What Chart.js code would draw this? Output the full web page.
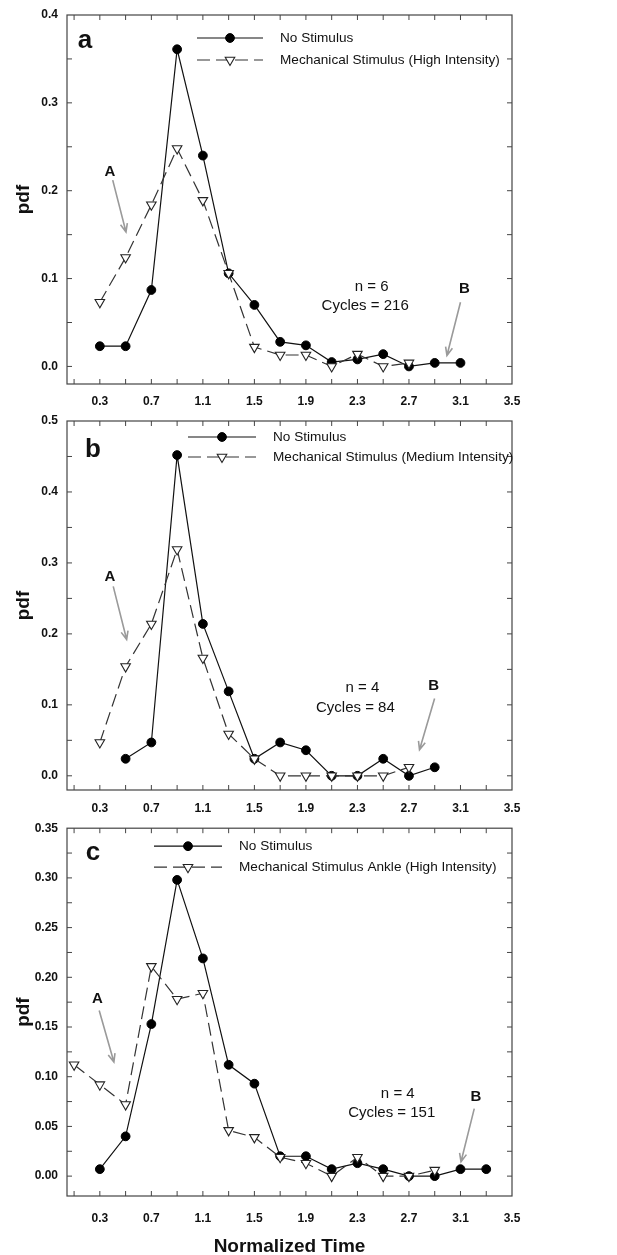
<!DOCTYPE html>
<html>
<head>
<meta charset="utf-8">
<script src="https://cdn.jsdelivr.net/npm/chart.js@4.4.0/dist/chart.umd.min.js"></script>
<style>
  html, body { margin: 0; padding: 0; background: #fff; }
  #wrap { position: relative; width: 617px; height: 1255px; }
  canvas { position: absolute; left: 0; }
</style>
</head>
<body>
<div id="wrap">
  <canvas id="pa" width="617" height="412" style="top:0px"></canvas>
  <canvas id="pb" width="617" height="410" style="top:410px"></canvas>
  <canvas id="pc" width="617" height="435" style="top:820px"></canvas>
</div>
<script>
// bin centres (normalized time)
const bins = [0.1, 0.3, 0.5, 0.7, 0.9, 1.1, 1.3, 1.5, 1.7, 1.9, 2.1, 2.3, 2.5, 2.7, 2.9, 3.1, 3.3];

// panel a
const noStimA = [null, 0.023, 0.023, 0.087, 0.361, 0.240, 0.106, 0.070, 0.028, 0.024, 0.005, 0.008, 0.014, 0.000, 0.004, 0.004, null];
const mechA   = [null, 0.073, 0.124, 0.184, 0.248, 0.189, 0.106, 0.022, 0.013, 0.013, 0.000, 0.014, 0.000, 0.004, null, null, null];
// panel b
const noStimB = [null, null, 0.024, 0.047, 0.452, 0.214, 0.119, 0.024, 0.047, 0.036, 0.000, 0.000, 0.024, 0.000, 0.012, null, null];
const mechB   = [null, 0.047, 0.154, 0.214, 0.319, 0.166, 0.059, 0.024, 0.000, 0.000, 0.000, 0.000, 0.000, 0.012, null, null, null];
// panel c
const noStimC = [null, 0.007, 0.040, 0.153, 0.298, 0.219, 0.112, 0.093, 0.020, 0.020, 0.007, 0.013, 0.007, 0.000, 0.000, 0.007, 0.007];
const mechC   = [0.112, 0.092, 0.072, 0.211, 0.178, 0.184, 0.046, 0.039, 0.019, 0.013, 0.000, 0.019, 0.000, 0.000, 0.006, null, null];

// ticks
const xTicks = [0.1, 0.3, 0.5, 0.7, 0.9, 1.1, 1.3, 1.5, 1.7, 1.9, 2.1, 2.3, 2.5, 2.7, 2.9, 3.1, 3.3, 3.5];
const xLabels = [0.3, 0.7, 1.1, 1.5, 1.9, 2.3, 2.7, 3.1, 3.5];
const yTicksA = [0, 0.05, 0.1, 0.15, 0.2, 0.25, 0.3, 0.35, 0.4];
const yLabelsA = [0, 0.1, 0.2, 0.3, 0.4];
const yTicksB = [0, 0.05, 0.1, 0.15, 0.2, 0.25, 0.3, 0.35, 0.4, 0.45, 0.5];
const yLabelsB = [0, 0.1, 0.2, 0.3, 0.4, 0.5];
const yTicksC = [0, 0.025, 0.05, 0.075, 0.1, 0.125, 0.15, 0.175, 0.2, 0.225, 0.25, 0.275, 0.3, 0.325, 0.35];
const yLabelsC = [0, 0.05, 0.1, 0.15, 0.2, 0.25, 0.3, 0.35];

const FONT = '"Liberation Sans", Arial, sans-serif';
const INK = '#111';
const GREY = '#9a9a9a';

const near = (list, v) => list.some(l => Math.abs(l - v) < 1e-9);
const toPoints = arr => bins.map((x, i) => ({x: x, y: arr[i]}));

// box round the plot with inward tick marks on all four sides
const frameTicks = {
  id: 'frameTicks',
  afterDraw(chart) {
    const {ctx, chartArea: a, scales: {x, y}} = chart;
    ctx.save();
    ctx.strokeStyle = '#444';
    ctx.lineWidth = 1.2;
    ctx.strokeRect(a.left, a.top, a.right - a.left, a.bottom - a.top);
    ctx.lineWidth = 1;
    ctx.beginPath();
    x.ticks.forEach(t => {
      const px = x.getPixelForValue(t.value);
      if (px > a.right - 1) return;
      ctx.moveTo(px, a.bottom); ctx.lineTo(px, a.bottom - 5);
      ctx.moveTo(px, a.top); ctx.lineTo(px, a.top + 5);
    });
    y.ticks.forEach(t => {
      const py = y.getPixelForValue(t.value);
      if (py < a.top + 1) return;
      ctx.moveTo(a.left, py); ctx.lineTo(a.left + 5, py);
      ctx.moveTo(a.right, py); ctx.lineTo(a.right - 5, py);
    });
    ctx.stroke();
    ctx.restore();
  }
};

// legend: line with the marker in the middle, text to the right
const lineLegend = {
  id: 'lineLegend',
  afterDraw(chart, args, opts) {
    const {ctx, chartArea: a} = chart;
    const x0 = a.left + opts.x0, x1 = a.left + opts.x1;
    ctx.save();
    chart.data.datasets.forEach((ds, i) => {
      const y = a.top + opts.rows[i];
      ctx.strokeStyle = ds.borderColor;
      ctx.lineWidth = ds.borderWidth;
      ctx.setLineDash(ds.borderDash || []);
      ctx.beginPath(); ctx.moveTo(x0, y); ctx.lineTo(x1, y); ctx.stroke();
      ctx.setLineDash([]);
      ctx.fillStyle = ds.pointBackgroundColor;
      ctx.strokeStyle = ds.pointBorderColor;
      ctx.lineWidth = ds.pointBorderWidth;
      Chart.helpers.drawPoint(ctx, {
        pointStyle: ds.pointStyle, radius: ds.pointRadius,
        rotation: ds.pointRotation || 0, borderWidth: ds.pointBorderWidth
      }, (x0 + x1) / 2, y);
      ctx.fillStyle = INK;
      ctx.font = '13.6px ' + FONT;
      ctx.textAlign = 'left';
      ctx.textBaseline = 'middle';
      ctx.fillText(ds.label, x1 + 17, y);
    });
    ctx.restore();
  }
};

// panel letter, A/B arrows, n and cycles text, placed in data units
const notes = {
  id: 'notes',
  afterDraw(chart, args, opts) {
    const {ctx, scales: {x, y}} = chart;
    ctx.save();
    opts.arrows.forEach(r => {
      const x1 = x.getPixelForValue(r[0]), y1 = y.getPixelForValue(r[1]);
      const x2 = x.getPixelForValue(r[2]), y2 = y.getPixelForValue(r[3]);
      const ang = Math.atan2(y2 - y1, x2 - x1);
      ctx.strokeStyle = GREY;
      ctx.lineWidth = 1.6;
      ctx.beginPath();
      ctx.moveTo(x1, y1); ctx.lineTo(x2, y2);
      ctx.moveTo(x2 - 9 * Math.cos(ang - 0.4), y2 - 9 * Math.sin(ang - 0.4));
      ctx.lineTo(x2, y2);
      ctx.lineTo(x2 - 9 * Math.cos(ang + 0.4), y2 - 9 * Math.sin(ang + 0.4));
      ctx.stroke();
    });
    opts.texts.forEach(t => {
      ctx.fillStyle = INK;
      ctx.font = t.font + ' ' + FONT;
      ctx.textAlign = t.align || 'center';
      ctx.textBaseline = 'middle';
      ctx.fillText(t.text, x.getPixelForValue(t.x), y.getPixelForValue(t.y));
    });
    ctx.restore();
  }
};

function makePanel(id, p) {
  const tickFont = {family: FONT, size: 12, weight: 'bold'};
  new Chart(document.getElementById(id), {
    type: 'line',
    data: {
      datasets: [{
        label: 'No Stimulus',
        data: toPoints(p.none),
        order: 1,
        borderColor: INK, borderWidth: 1.2,
        pointStyle: 'circle', pointRadius: 4.4,
        pointBackgroundColor: '#000', pointBorderColor: '#000', pointBorderWidth: 1
      }, {
        label: p.mechLabel,
        data: toPoints(p.mech),
        order: 0,
        borderColor: '#333', borderWidth: 1.2, borderDash: [13, 6],
        pointStyle: 'triangle', pointRotation: 180, pointRadius: 5.5,
        pointBackgroundColor: '#fff', pointBorderColor: '#222', pointBorderWidth: 1.1
      }]
    },
    options: {
      responsive: false,
      animation: false,
      layout: {padding: {left: 0, right: 105, top: p.top, bottom: 0}},
      elements: {line: {tension: 0}},
      plugins: {
        legend: {display: false},
        tooltip: {enabled: false},
        lineLegend: p.legend,
        notes: p.notes
      },
      scales: {
        x: {
          type: 'linear', min: 0.045, max: 3.5,
          grid: {display: false}, border: {display: false},
          afterBuildTicks: s => { s.ticks = xTicks.map(v => ({value: v})); },
          afterFit: s => { s.height = p.xHeight; },
          ticks: {
            autoSkip: false, maxRotation: 0, padding: p.xPad, font: tickFont, color: INK,
            callback: v => near(xLabels, v) ? v.toFixed(1) : ''
          },
          title: {
            display: !!p.xTitle, text: p.xTitle || '', color: INK,
            font: {family: FONT, size: 19, weight: 'bold', lineHeight: 1},
            padding: {top: 0, bottom: -1}
          }
        },
        y: {
          type: 'linear', min: -0.02, max: p.yMax,
          grid: {display: false}, border: {display: false},
          afterBuildTicks: s => { s.ticks = p.yTicks.map(v => ({value: v})); },
          afterFit: s => { s.width = 67; },
          ticks: {
            padding: 1, font: tickFont, color: INK,
            callback: v => near(p.yLabels, v) ? v.toFixed(p.dec) : ''
          },
          title: {
            display: true, text: 'pdf', color: INK,
            font: {family: FONT, size: 19, weight: 'bold', lineHeight: 1.2},
            padding: {top: 12, bottom: 0}
          }
        }
      }
    },
    plugins: [frameTicks, lineLegend, notes]
  });
}

makePanel('pa', {
  none: noStimA, mech: mechA, mechLabel: 'Mechanical Stimulus (High Intensity)',
  top: 15, xHeight: 28, xPad: 2, yMax: 0.4, yTicks: yTicksA, yLabels: yLabelsA, dec: 1,
  legend: {x0: 130, x1: 196, rows: [23, 45]},
  notes: {
    texts: [
      {text: 'a', x: 0.128, y: 0.371, font: 'bold 26px', align: 'left'},
      {text: 'A', x: 0.378, y: 0.221, font: 'bold 15px'},
      {text: 'n = 6', x: 2.41, y: 0.091, font: '15px'},
      {text: 'Cycles = 216', x: 2.36, y: 0.0695, font: '15px'},
      {text: 'B', x: 3.13, y: 0.088, font: 'bold 15px'}
    ],
    arrows: [[0.40, 0.212, 0.503, 0.153], [3.10, 0.073, 2.995, 0.0125]]
  }
});

makePanel('pb', {
  none: noStimB, mech: mechB, mechLabel: 'Mechanical Stimulus (Medium Intensity)',
  top: 11, xHeight: 30, xPad: 3, yMax: 0.5, yTicks: yTicksB, yLabels: yLabelsB, dec: 1,
  legend: {x0: 121, x1: 189, rows: [16, 36]},
  notes: {
    texts: [
      {text: 'b', x: 0.184, y: 0.459, font: 'bold 26px', align: 'left'},
      {text: 'A', x: 0.378, y: 0.281, font: 'bold 15px'},
      {text: 'n = 4', x: 2.339, y: 0.1235, font: '15px'},
      {text: 'Cycles = 84', x: 2.284, y: 0.0953, font: '15px'},
      {text: 'B', x: 2.891, y: 0.127, font: 'bold 15px'}
    ],
    arrows: [[0.404, 0.267, 0.508, 0.192], [2.899, 0.109, 2.782, 0.0366]]
  }
});

makePanel('pc', {
  none: noStimC, mech: mechC, mechLabel: 'Mechanical Stimulus Ankle (High Intensity)',
  top: 7, xHeight: 59, xPad: 7, yMax: 0.35, yTicks: yTicksC, yLabels: yLabelsC, dec: 2,
  xTitle: 'Normalized Time',
  legend: {x0: 87, x1: 155, rows: [18, 39]},
  notes: {
    texts: [
      {text: 'c', x: 0.191, y: 0.3256, font: 'bold 26px', align: 'left'},
      {text: 'A', x: 0.282, y: 0.178, font: 'bold 15px'},
      {text: 'n = 4', x: 2.613, y: 0.0823, font: '15px'},
      {text: 'Cycles = 151', x: 2.566, y: 0.0636, font: '15px'},
      {text: 'B', x: 3.22, y: 0.0796, font: 'bold 15px'}
    ],
    arrows: [[0.295, 0.1666, 0.409, 0.1148], [3.207, 0.0679, 3.104, 0.0144]]
  }
});
</script>
</body>
</html>
